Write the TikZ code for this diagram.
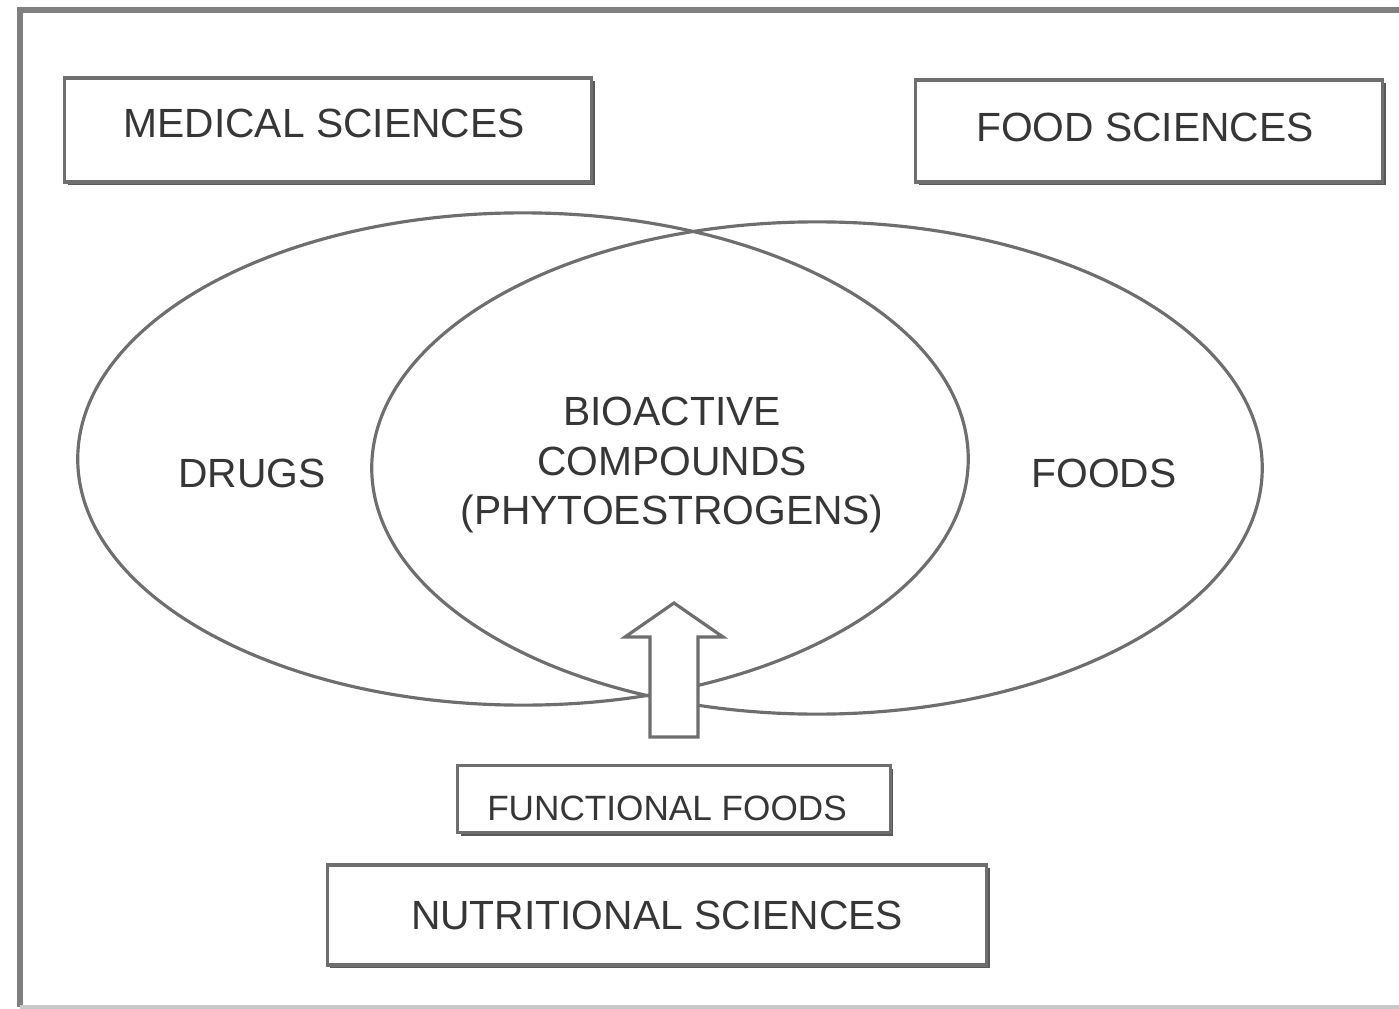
\documentclass[tikz,border=0pt]{standalone}
\usepackage{fontspec}
\setmainfont{Liberation Sans}
\usetikzlibrary{shapes.geometric,shadows}
\definecolor{ln}{HTML}{6E6E6E}
\definecolor{tx}{HTML}{363636}
\definecolor{fr}{HTML}{808080}
\definecolor{frl}{HTML}{C8C8C8}
\tikzset{
  venn/.style={ellipse, draw=ln, line width=0.9pt, inner sep=0pt, outer sep=0pt},
  lbl/.style={text=tx, font=\fontsize{11.6}{14.2}\selectfont, align=center, inner sep=0pt},
  sbox/.style={draw=ln, line width=0.9pt, fill=white, text=tx,
    font=\fontsize{11.6}{14.2}\selectfont, inner sep=0pt,
    drop shadow={shadow xshift=0.9pt, shadow yshift=-0.9pt, fill=black!65, opacity=1}},
  blockarrow/.style={draw=ln, line width=0.9pt, fill=white, line join=miter}
}
\begin{document}
\begin{tikzpicture}[x=0.01cm, y=-0.01cm]
\useasboundingbox[fill=white] (0,0) rectangle (1399,1009);
% frame
\draw[fr, line width=1.6pt] (1399,10) -- (20,10) -- (20,1007);
\draw[frl, line width=1.2pt] (20,1007) -- (1399,1007);
% ellipses
\node[venn, minimum width=8.9cm, minimum height=4.92cm] (drugsE) at (523,459) {};
\node[venn, minimum width=8.9cm, minimum height=4.92cm] (foodsE) at (817,468) {};
% labels inside ellipses
\node[lbl] (drugs) at (252,473) {DRUGS};
\node[lbl] (foods) at (1104,473) {FOODS};
\node[lbl] (bio) at (672,465) {BIOACTIVE\\COMPOUNDS\\(PHYTOESTROGENS)};
% top boxes
\node[sbox, minimum width=5.27cm, minimum height=1.04cm, text height=8.3pt, text depth=4pt]
  (med) at (328,130) {MEDICAL SCIENCES\kern0.08cm};
\node[sbox, minimum width=4.67cm, minimum height=1.02cm, text height=8.3pt, text depth=2.3pt]
  (foodsci) at (1149,131) {FOOD SCIENCES\kern0.08cm};
% bottom boxes
\node[sbox, minimum width=4.32cm, minimum height=0.67cm, text height=12.3pt, text depth=0pt,
  font=\fontsize{10}{12}\selectfont] (func) at (674,799) {FUNCTIONAL FOODS\kern0.14cm};
\node[sbox, minimum width=6.59cm, minimum height=1.0cm, text height=8.3pt, text depth=0pt]
  (nutr) at (657,915) {NUTRITIONAL SCIENCES};
% block arrow from functional foods up into the bioactive compounds
\coordinate (arrtail) at (674,737);
\coordinate (arrtip) at (674,603);
\draw[blockarrow] (arrtail) ++(-24,0) -- ++(0,-100) -- ++(-25,0) -- (arrtip)
  -- ++(49,34) -- ++(-25,0) -- ++(0,100) -- cycle;
\end{tikzpicture}
\end{document}
